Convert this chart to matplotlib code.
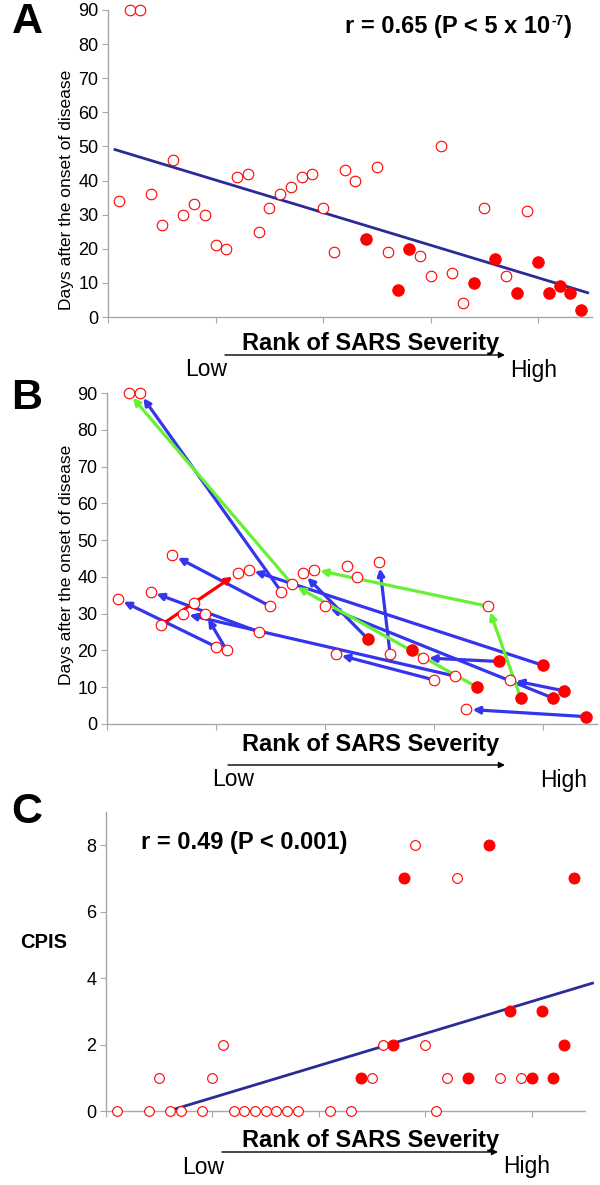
import numpy as np
import matplotlib
matplotlib.use('Agg')
import matplotlib.pyplot as plt
from matplotlib.patches import FancyArrowPatch

plt.rcParams['font.family'] = ['Liberation Sans', 'DejaVu Sans']

# ---------------- data ----------------
# Panel A: rank of SARS severity vs days after onset
rank_a = list(range(1, 45))
days_a = [34, 90, 90, 36, 27, 46, 30, 33, 30, 21, 20, 41, 42, 25, 32, 36, 38, 41,
          42, 32, 19, 43, 40, 23, 44, 19, 8, 20, 18, 12, 50, 13, 4, 10, 32, 17,
          12, 7, 31, 16, 7, 9, 7, 2]
filled_ranks = [24, 27, 28, 34, 36, 38, 40, 41, 42, 43, 44]
fit_a = (-0.955, 49.7)          # slope, intercept
fit_a_range = (0.65, 44.6)

# Panel B: same samples (subset) with arrows between samples of same patient
hidden_b = [27, 31, 39, 43]
arrows_blue = [(16, 3), (40, 13), (24, 18), (41, 20), (42, 37), (32, 7), (14, 4),
               (30, 21), (36, 29), (26, 25), (44, 33), (10, 1), (11, 9), (15, 6)]
arrows_green = [(34, 17), (17, 2), (38, 35), (35, 19)]
arrows_red = [(5, 12)]

# Panel C: rank vs CPIS
rank_c = [1, 4, 5, 6, 7, 9, 10, 11, 12, 13, 14, 15, 16, 17, 18, 21, 23, 24, 25,
          26, 27, 28, 29, 30, 31, 32, 33, 34, 36, 37, 38, 39, 40, 41, 42, 43, 44]
cpis_c = [0, 0, 1, 0, 0, 0, 1, 2, 0, 0, 0, 0, 0, 0, 0, 0, 0, 1, 1,
          2, 2, 7, 8, 2, 0, 1, 7, 1, 8, 1, 3, 1, 1, 3, 1, 2, 7]
fit_c = (0.0966, -0.566)
fit_c_range = (5.86, 45.7)

x_ticks = [0, 10, 20, 30, 40]
y_ticks_ab = [0, 10, 20, 30, 40, 50, 60, 70, 80, 90]
y_ticks_c = [0, 2, 4, 6, 8]

# ---------------- style ----------------
W, H = 600, 1185
RED = '#ff0000'
LINE_BLUE = '#2b2b95'
ARROW_BLUE = '#3535f0'
ARROW_GREEN = '#66f233'
GREY = '#a8a8a8'

fig = plt.figure(figsize=(W / 100, H / 100), dpi=100)
renderer = fig.canvas.get_renderer()


def fx(px):
    return px / W


def fy(py):
    return 1 - py / H


def make_axes(x0, x1, ytop, ybot):
    return fig.add_axes([fx(x0), fy(ybot), fx(x1) - fx(x0), (ybot - ytop) / H])


def style(ax, yticks, ylim):
    ax.set_xlim(0, 45)
    ax.set_ylim(*ylim)
    for s in ['top', 'right']:
        ax.spines[s].set_visible(False)
    for s in ['left', 'bottom']:
        ax.spines[s].set_color(GREY)
        ax.spines[s].set_linewidth(1.0)
    ax.set_xticks(x_ticks)
    ax.set_xticklabels([])
    ax.set_yticks(yticks)
    ax.set_yticklabels([str(t) for t in yticks])
    ax.tick_params(axis='both', direction='out', length=4, width=0.8,
                   color=GREY, labelsize=13, labelcolor='black', pad=3)
    ax.patch.set_alpha(0)


def scatter(ax, xs, ys, size_open=7.6, size_fill=8.2):
    for x, y in zip(xs, ys):
        if x in filled_ranks:
            ax.plot([x], [y], 'o', ms=size_fill, mfc=RED, mec=RED, mew=0.8,
                    zorder=4, clip_on=False)
        else:
            ax.plot([x], [y], 'o', ms=size_open, mfc='white', mec=RED, mew=0.8,
                    zorder=4, clip_on=False)


def severity_label(ytext, yarrow, x0, x1, ylh, lowx, highx):
    fig.text(fx(371), fy(ytext), 'Rank of SARS Severity', fontsize=17,
             fontweight='bold', ha='center', va='center')
    fig.add_artist(FancyArrowPatch((fx(x0), fy(yarrow)), (fx(x1), fy(yarrow)),
                                   transform=fig.transFigure, arrowstyle='-|>',
                                   mutation_scale=9, lw=1.0, color='black',
                                   shrinkA=0, shrinkB=0))
    fig.text(fx(lowx), fy(ylh), 'Low', fontsize=16.5, ha='left', va='center')
    fig.text(fx(highx), fy(ylh), 'High', fontsize=16.5, ha='left', va='center')


# ---------------- Panel A ----------------
axA = make_axes(108, 592, 10, 317)
style(axA, y_ticks_ab, (0, 90))
xa = np.array(fit_a_range)
axA.plot(xa, fit_a[0] * xa + fit_a[1], color=LINE_BLUE, lw=2.0, zorder=3)
scatter(axA, rank_a, days_a)
fig.text(fx(27), fy(22), 'A', fontsize=31, fontweight='bold', ha='center', va='center')
fig.text(fx(66), fy(190), 'Days after the onset of disease', fontsize=12.5,
         rotation=90, ha='center', va='center')
t1 = fig.text(fx(345), fy(26), 'r = 0.65 (P < 5 x 10', fontsize=17,
              fontweight='bold', ha='left', va='center')
bb1 = t1.get_window_extent(renderer=renderer)
t2 = fig.text((bb1.x1 + 1) / W, fy(21), '-7', fontsize=10,
              fontweight='bold', ha='left', va='center')
bb2 = t2.get_window_extent(renderer=renderer)
fig.text((bb2.x1 + 1) / W, fy(26), ')', fontsize=17,
         fontweight='bold', ha='left', va='center')
severity_label(343, 355, 225, 505, 370, 185, 510)

# ---------------- Panel B ----------------
axB = make_axes(107, 597, 393, 724)
style(axB, y_ticks_ab, (0, 90))
lookup = dict(zip(rank_a, days_a))
xb = [r for r in rank_a if r not in hidden_b]
yb = [lookup[r] for r in xb]
for lst, col in [(arrows_blue, ARROW_BLUE), (arrows_green, ARROW_GREEN),
                 (arrows_red, RED)]:
    for a, b in lst:
        arr = FancyArrowPatch((a, lookup[a]), (b, lookup[b]), arrowstyle='-|>',
                              mutation_scale=10, lw=2.3, color=col,
                              shrinkA=3.5, shrinkB=4.5, zorder=2)
        axB.add_patch(arr)
scatter(axB, xb, yb)
fig.text(fx(27), fy(398), 'B', fontsize=31, fontweight='bold', ha='center', va='center')
fig.text(fx(66), fy(565), 'Days after the onset of disease', fontsize=12.5,
         rotation=90, ha='center', va='center')
severity_label(745, 765, 228, 505, 780, 212, 540)

# ---------------- Panel C ----------------
axC = make_axes(106, 585, 812, 1111)
style(axC, y_ticks_c, (0, 9))
xc = np.array(fit_c_range)
axC.plot(xc, fit_c[0] * xc + fit_c[1], color=LINE_BLUE, lw=2.0, zorder=3,
         clip_on=False)
scatter(axC, rank_c, cpis_c, size_open=7.0, size_fill=7.8)
fig.text(fx(27), fy(812), 'C', fontsize=31, fontweight='bold', ha='center', va='center')
fig.text(fx(44), fy(943), 'CPIS', fontsize=14.5, fontweight='bold',
         ha='center', va='center')
fig.text(fx(141), fy(843), 'r = 0.49 (P < 0.001)', fontsize=17,
         fontweight='bold', ha='left', va='center')
severity_label(1140, 1152, 222, 498, 1167, 182, 503)

fig.savefig('out.png', dpi=100)
